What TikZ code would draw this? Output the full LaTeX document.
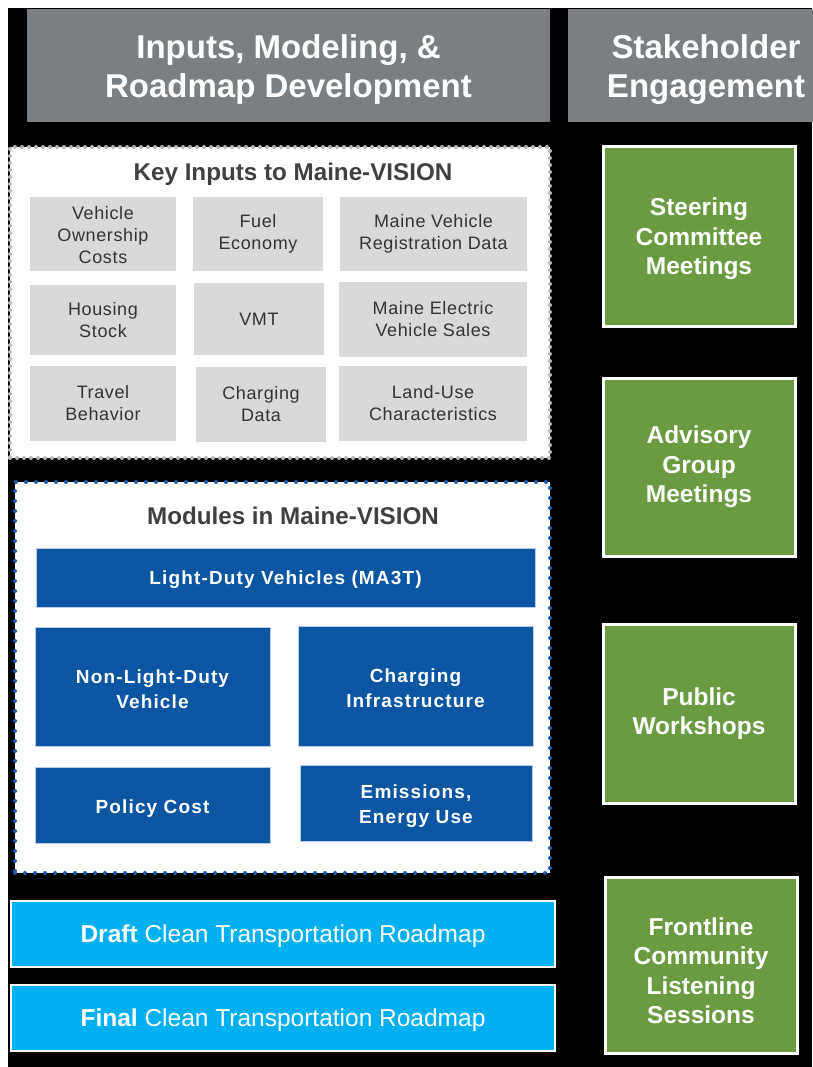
\documentclass[tikz,border=0pt]{standalone}
\usepackage{fontspec}
\setmainfont{Liberation Sans}
\newfontfamily\gridfont[LetterSpace=3.5]{Liberation Sans}
\newfontfamily\modfont[LetterSpace=6]{Liberation Sans}
\definecolor{hdrgray}{HTML}{7A7F84}
\definecolor{dotgray}{HTML}{B8B8B8}
\definecolor{dotblue}{HTML}{1F5AAE}
\definecolor{gridgray}{HTML}{D9D9D9}
\definecolor{txtgray}{HTML}{333333}
\definecolor{titlegray}{HTML}{404040}
\definecolor{modblue}{HTML}{0B55A3}
\definecolor{skyblue}{HTML}{00B0F0}
\definecolor{grn}{HTML}{6A9B40}
\newcommand{\topstrut}[1]{\rule{0pt}{#1}}
\begin{document}
\begin{tikzpicture}[x=1pt,y=-1pt,
  every node/.style={inner sep=0pt, outer sep=0pt, anchor=north west, align=center},
  hdr/.style={fill=hdrgray, text=white, font=\bfseries\fontsize{33}{39}\selectfont},
  panelgray/.style={fill=white, draw=dotgray, line width=4pt, dash pattern=on 0pt off 7pt, line cap=round},
  panelblue/.style={fill=white, draw=dotblue, line width=4pt, dash pattern=on 0pt off 10pt, line cap=round},
  ptitle/.style={anchor=center, text=titlegray, font=\bfseries\fontsize{24.2}{28}\selectfont},
  inbox/.style={fill=gridgray, text=txtgray, font=\gridfont\fontsize{18}{22}\selectfont},
  modbox/.style={fill=modblue, draw=white!70!modblue, line width=0.6pt, text=white, font=\modfont\bfseries\fontsize{19}{25}\selectfont},
  roadbox/.style={fill=skyblue, draw=white, line width=1.5pt, text=white, text height=17pt, text depth=0pt, font=\fontsize{24.5}{29}\selectfont},
  grnbox/.style={fill=grn, draw=white, line width=3pt, text=white, font=\bfseries\fontsize{24.5}{29.5}\selectfont}
]
\useasboundingbox (0,0) rectangle (812,1067);
\fill[black] (8,8) rectangle (812,1067);

% headers
\node[hdr, minimum width=523pt, minimum height=113pt] (hL) at (27,9) {\topstrut{32pt}Inputs, Modeling, \&\\Roadmap Development};
\node[hdr, minimum width=276pt, minimum height=113pt] (hR) at (568,9) {\topstrut{31pt}Stakeholder\\Engagement};

% key inputs panel
\node[panelgray, minimum width=540pt, minimum height=311pt] (keyP) at (10,147) {};
\node[ptitle] (keyT) at (293,174) {Key Inputs to Maine-VISION};
\node[inbox, minimum width=146pt, minimum height=74pt] (g11) at (30,197) {\topstrut{16pt}Vehicle\\Ownership\\Costs};
\node[inbox, minimum width=130pt, minimum height=74pt] (g12) at (193,197) {Fuel\\Economy};
\node[inbox, minimum width=187pt, minimum height=74pt] (g13) at (340,197) {Maine Vehicle\\Registration Data};
\node[inbox, minimum width=146pt, minimum height=70pt] (g21) at (30,285) {Housing\\Stock};
\node[inbox, minimum width=130pt, minimum height=72pt] (g22) at (194,283) {VMT};
\node[inbox, minimum width=188pt, minimum height=75pt] (g23) at (339,282) {Maine Electric\\Vehicle Sales};
\node[inbox, minimum width=146pt, minimum height=75pt] (g31) at (30,366) {Travel\\Behavior};
\node[inbox, minimum width=130pt, minimum height=75pt] (g32) at (196,367) {Charging\\Data};
\node[inbox, minimum width=188pt, minimum height=75pt] (g33) at (339,366) {Land-Use\\Characteristics};

% modules panel
\node[panelblue, minimum width=535pt, minimum height=391pt] (modP) at (15,482) {};
\node[ptitle] (modT) at (293,516) {Modules in Maine-VISION};
\node[modbox, minimum width=499pt, minimum height=59pt] (ld) at (36,548) {\topstrut{19pt}Light-Duty Vehicles (MA3T)};
\node[modbox, minimum width=235pt, minimum height=119pt] (nld) at (35,627) {\topstrut{19pt}Non-Light-Duty\\Vehicle};
\node[modbox, minimum width=235pt, minimum height=120pt] (ci) at (298,626) {\topstrut{19pt}Charging\\Infrastructure};
\node[modbox, minimum width=235pt, minimum height=76pt] (pc) at (35,767) {\topstrut{20pt}Policy Cost};
\node[modbox, minimum width=232pt, minimum height=76pt] (em) at (300,765) {\topstrut{20pt}Emissions,\\Energy Use};

% roadmap boxes
\node[roadbox, minimum width=544pt, minimum height=66pt] (draft) at (11,901) {\textbf{Draft} Clean Transportation Roadmap};
\node[roadbox, minimum width=544pt, minimum height=66pt] (final) at (11,985) {\textbf{Final} Clean Transportation Roadmap};

% stakeholder boxes
\node[grnbox, minimum width=192pt, minimum height=179pt] (sc) at (603,147) {\topstrut{23pt}Steering\\Committee\\Meetings};
\node[grnbox, minimum width=192pt, minimum height=178pt] (ag) at (603,378) {Advisory\\Group\\Meetings};
\node[grnbox, minimum width=192pt, minimum height=179pt] (pw) at (603,624) {Public\\Workshops};
\node[grnbox, minimum width=192pt, minimum height=176pt] (fc) at (605,877) {\topstrut{29pt}Frontline\\Community\\Listening\\Sessions};
\end{tikzpicture}
\end{document}
